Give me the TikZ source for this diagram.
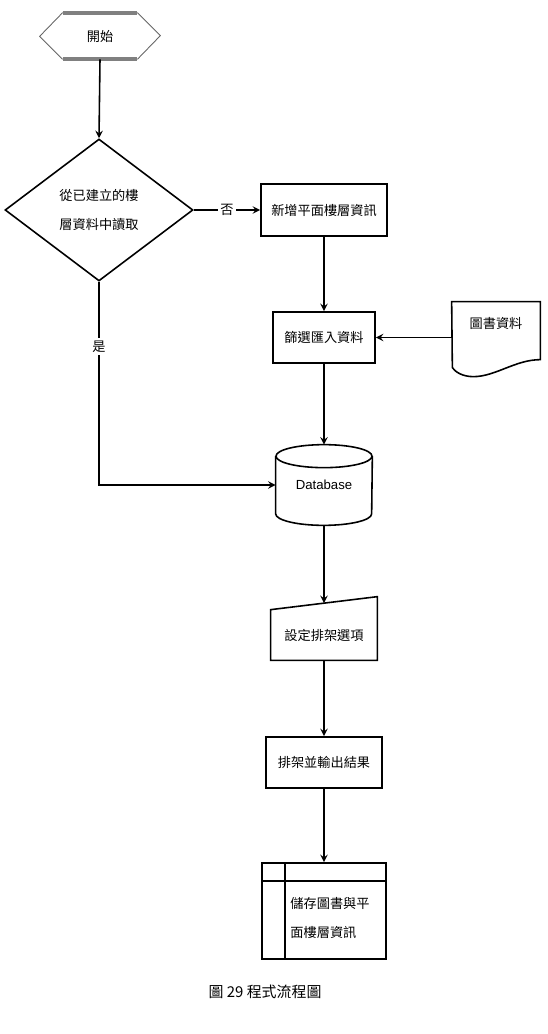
\documentclass[tikz,border=0pt]{standalone}
\usepackage{fontspec}
\setmainfont{Liberation Sans}
\newfontfamily\cjk{Noto Sans CJK TC}
\usetikzlibrary{arrows, shapes.geometric}

\begin{document}
\begin{tikzpicture}[
  every node/.style={font=\cjk\fontsize{7.5}{9}\selectfont},
  flow/.style={line width=0.9pt},
  arr/.style={flow, -stealth},
  box/.style={draw, flow, inner sep=2pt}
]
\useasboundingbox (0,0) rectangle (10.94,-20.68);

\node[minimum width=1.48cm, minimum height=0.92cm] (start) at (2.0,-0.72) {開始};
\draw[line width=0.5pt, black!60] (start.north east) -- ++(0.46,-0.46) -- (start.south east)
  (start.south west) -- ++(-0.46,0.46) -- (start.north west);
\draw[line width=2.4pt, black!50] (start.north west) -- (start.north east)
  (start.south west) -- (start.south east);

\node[draw, flow, diamond, minimum width=3.76cm, minimum height=2.84cm, inner sep=0pt,
  align=left, font=\cjk\fontsize{7.5}{17}\selectfont] (dec) at (1.98,-4.2) {從已建立的樓\\層資料中讀取};

\node[box, minimum width=2.52cm, minimum height=1.04cm] (new) at (6.48,-4.2) {新增平面樓層資訊};
\node[box, minimum width=2.04cm, minimum height=1.02cm] (sel) at (6.48,-6.75) {篩選匯入資料};

\node[minimum width=1.76cm, minimum height=0.84cm] (book) at (9.92,-6.46) {圖書資料};
\draw[flow] (book.north west) -- (book.north east) -- ++(0,-1.16)
  .. controls +(-0.5,0) and +(0.44,0) .. ++(-1.34,-0.34)
  .. controls +(-0.21,0) and +(0.06,-0.09) .. ++(-0.42,0.18) -- cycle;

\node[minimum width=1.92cm, minimum height=1.6cm, font=\fontsize{7.5}{9}\selectfont] (db) at (6.48,-9.7) {Database};
\draw[flow] ([yshift=-0.23cm]db.north west) -- ([yshift=0.23cm]db.south west)
  arc[start angle=180, end angle=360, x radius=0.96cm, y radius=0.23cm]
  -- ([yshift=-0.23cm]db.north east);
\draw[flow] ([yshift=-0.23cm]db.north) ellipse [x radius=0.96cm, y radius=0.23cm];

\node[minimum width=2.12cm, minimum height=1.0cm] (opt) at (6.48,-12.7) {設定排架選項};
\draw[flow] (opt.south west) -- (opt.north west) -- ([yshift=0.26cm]opt.north east)
  -- (opt.south east) -- cycle;

\node[box, minimum width=2.32cm, minimum height=1.02cm] (run) at (6.48,-15.25) {排架並輸出結果};

\node[draw, flow, minimum width=2.48cm, minimum height=1.92cm] (store) at (6.48,-18.22) {};
\draw[flow] ([xshift=0.48cm]store.north west) -- ([xshift=0.48cm]store.south west);
\draw[flow] ([yshift=-0.38cm]store.north west) -- ([yshift=-0.38cm]store.north east);
\node[align=left, font=\cjk\fontsize{7.5}{17}\selectfont] (storetxt) at (6.6,-18.36) {儲存圖書與平\\面樓層資訊};

\node[font=\cjk\fontsize{8.5}{10}\selectfont] (cap) at (5.3,-19.84) {圖 29 程式流程圖};

\draw[arr] (start.south) -- (dec.north);
\draw[arr] (dec.east) -- node[fill=white, inner sep=1.5pt] {否} (new.west);
\draw[arr] (new) -- (sel);
\draw[arr] (book.west |- sel) -- (sel.east);
\draw[arr] (sel) -- (db.north);
\draw[arr] (dec.south) |- node[pos=0.16, fill=white, inner sep=1.5pt] {是} (db.west);
\draw[arr] (db.south) -- ([yshift=0.13cm]opt.north);
\draw[arr] (opt.south) -- (run);
\draw[arr] (run) -- (store);
\end{tikzpicture}
\end{document}
